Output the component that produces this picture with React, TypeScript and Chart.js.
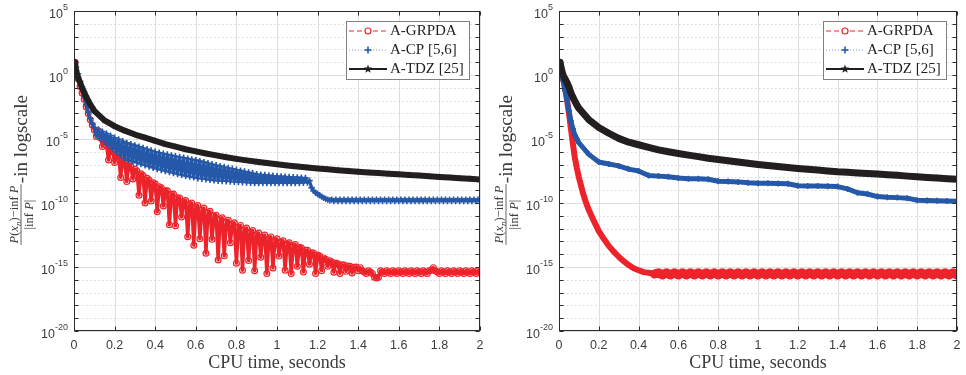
import React, { useEffect, useRef } from "react";
import { Chart, registerables } from "chart.js";

Chart.register(...registerables);

// ---------- axes / labels ----------
const xTickValues = [0, 0.2, 0.4, 0.6, 0.8, 1, 1.2, 1.4, 1.6, 1.8, 2];
const xTickLabels = ["0", "0.2", "0.4", "0.6", "0.8", "1", "1.2", "1.4", "1.6", "1.8", "2"];
const yMajorExp = [5, 0, -5, -10, -15, -20];
const yMajorExpLabels = ["5", "0", "-5", "-10", "-15", "-20"];
const yMinExp = -20;
const yMaxExp = 5;
const xTitle = "CPU time, seconds";
const yTitleTail = "-in logscale";
const legendLabels = ["A-GRPDA", "A-CP [5,6]", "A-TDZ [25]"];

// ---------- time grids (seconds) ----------
const tLeftDense = [
  0.005,
  0.01, 0.02, 0.03, 0.04, 0.05, 0.06, 0.07, 0.08, 0.09, 0.1,
  0.11, 0.12, 0.13, 0.14, 0.15, 0.16, 0.17, 0.18, 0.19, 0.2,
  0.21, 0.22, 0.23, 0.24, 0.25, 0.26, 0.27, 0.28, 0.29, 0.3,
  0.31, 0.32, 0.33, 0.34, 0.35, 0.36, 0.37, 0.38, 0.39, 0.4,
  0.41, 0.42, 0.43, 0.44, 0.45, 0.46, 0.47, 0.48, 0.49, 0.5,
  0.51, 0.52, 0.53, 0.54, 0.55, 0.56, 0.57, 0.58, 0.59, 0.6,
  0.61, 0.62, 0.63, 0.64, 0.65, 0.66, 0.67, 0.68, 0.69, 0.7,
  0.71, 0.72, 0.73, 0.74, 0.75, 0.76, 0.77, 0.78, 0.79, 0.8,
  0.81, 0.82, 0.83, 0.84, 0.85, 0.86, 0.87, 0.88, 0.89, 0.9,
  0.91, 0.92, 0.93, 0.94, 0.95, 0.96, 0.97, 0.98, 0.99, 1.0,
  1.01, 1.02, 1.03, 1.04, 1.05, 1.06, 1.07, 1.08, 1.09, 1.1,
  1.11, 1.12, 1.13, 1.14, 1.15, 1.16, 1.17, 1.18, 1.19, 1.2,
  1.21, 1.22, 1.23, 1.24, 1.25, 1.26, 1.27, 1.28, 1.29, 1.3,
  1.31, 1.32, 1.33, 1.34, 1.35, 1.36, 1.37, 1.38, 1.39, 1.4,
  1.41, 1.42, 1.43, 1.44, 1.45, 1.46, 1.47, 1.48, 1.49, 1.5,
  1.51, 1.52, 1.53, 1.54, 1.55, 1.56, 1.57, 1.58, 1.59, 1.6,
  1.61, 1.62, 1.63, 1.64, 1.65, 1.66, 1.67, 1.68, 1.69, 1.7,
  1.71, 1.72, 1.73, 1.74, 1.75, 1.76, 1.77, 1.78, 1.79, 1.8,
  1.81, 1.82, 1.83, 1.84, 1.85, 1.86, 1.87, 1.88, 1.89, 1.9,
  1.91, 1.92, 1.93, 1.94, 1.95, 1.96, 1.97, 1.98, 1.99, 2.0,
];

const tCoarse = [
  0.005, 0.01, 0.02, 0.03, 0.04, 0.05, 0.06, 0.07, 0.08, 0.09, 0.1,
  0.15, 0.2, 0.25, 0.3, 0.35, 0.4, 0.45, 0.5, 0.55, 0.6, 0.65, 0.7, 0.75, 0.8,
  0.85, 0.9, 0.95, 1.0, 1.05, 1.1, 1.15, 1.2, 1.25, 1.3, 1.35, 1.4, 1.45, 1.5,
  1.55, 1.6, 1.65, 1.7, 1.75, 1.8, 1.85, 1.9, 1.95, 2.0,
];

const tRightRed = [
  0.005,
  0.01, 0.02, 0.03, 0.04, 0.05, 0.06, 0.07, 0.08, 0.09, 0.1, 0.11, 0.12, 0.13, 0.14, 0.15,
  0.175, 0.2, 0.225, 0.25, 0.275, 0.3, 0.325, 0.35, 0.375, 0.4, 0.425, 0.45,
  0.48, 0.5, 0.52, 0.54, 0.56, 0.58, 0.6, 0.62, 0.64, 0.66, 0.68, 0.7, 0.72, 0.74, 0.76, 0.78,
  0.8, 0.82, 0.84, 0.86, 0.88, 0.9, 0.92, 0.94, 0.96, 0.98, 1.0, 1.02, 1.04, 1.06, 1.08,
  1.1, 1.12, 1.14, 1.16, 1.18, 1.2, 1.22, 1.24, 1.26, 1.28, 1.3, 1.32, 1.34, 1.36, 1.38,
  1.4, 1.42, 1.44, 1.46, 1.48, 1.5, 1.52, 1.54, 1.56, 1.58, 1.6, 1.62, 1.64, 1.66, 1.68,
  1.7, 1.72, 1.74, 1.76, 1.78, 1.8, 1.82, 1.84, 1.86, 1.88, 1.9, 1.92, 1.94, 1.96, 1.98, 2.0,
];

// ---------- series: log10 of relative objective error ----------
// Left panel
const grpdaLeftLog10 = [
  1.0,
  0.3, -0.3, -0.9, -1.4, -1.9, -2.5, -3.0, -3.5, -3.9,
  -4.3, -4.8, -4.35, -4.9, -5.58, -4.99, -5.5, -6.64, -5.62, -6.0, -6.84, -6.14,
  -6.4, -8.0, -6.56, -6.8, -8.33, -6.98, -7.15, -8.13, -7.35, -7.5, -9.39, -7.71,
  -7.85, -10.0, -8.07, -8.2, -9.85, -8.42, -8.5, -10.69, -8.73, -8.8, -10.24, -9.04,
  -9.05, -11.7, -9.32, -9.3, -11.77, -9.59, -9.6, -11.1, -9.9, -9.8, -12.64, -10.12,
  -10.0, -13.3, -10.33, -10.2, -12.79, -10.55, -10.4, -13.92, -10.77, -10.65, -12.84, -11.02,
  -10.95, -14.45, -11.3, -11.15, -14.13, -11.5, -11.35, -13.1, -11.7, -11.55, -14.7, -11.9,
  -11.75, -15.25, -12.1, -11.95, -14.5, -12.29, -12.15, -15.29, -12.48, -12.35, -14.24, -12.67,
  -12.5, -15.5, -12.8, -12.65, -15.07, -12.94, -12.8, -14.15, -13.07, -12.95, -15.25, -13.21,
  -13.1, -15.5, -13.34, -13.25, -14.94, -13.48, -13.5, -15.4, -13.7, -13.7, -14.78, -13.88,
  -13.9, -15.5, -14.06, -14.15, -15.3, -14.29, -14.4, -14.95, -14.51, -14.6, -15.41, -14.69,
  -14.75, -15.5, -14.83, -14.85, -15.34, -14.92, -14.95, -15.47, -15.01, -15.0, -15.3, -15.05,
  -15.3, -15.4, -15.5, -15.3, -15.4, -15.5, -15.8, -15.85, -15.8, -15.3,
  -15.4, -15.5, -15.3, -15.4, -15.5, -15.3, -15.4, -15.5, -15.3, -15.4,
  -15.5, -15.3, -15.4, -15.5, -15.3, -15.4, -15.5, -15.3, -15.4, -15.5,
  -15.3, -15.4, -15.5, -15.3, -15.25, -15.05, -15.3, -15.4, -15.5, -15.3,
  -15.4, -15.5, -15.3, -15.4, -15.5, -15.3, -15.4, -15.5, -15.3, -15.4,
  -15.5, -15.3, -15.4, -15.5, -15.3, -15.4, -15.5, -15.3, -15.4,
];

const cpLeftLog10 = [
  1.0,
  0.6, 0.1, -0.5, -1.1, -1.7, -2.3, -2.9, -3.4, -3.8,
  -4.1, -4.72, -4.26, -4.96, -4.42, -5.2, -4.58, -5.48, -4.74, -5.76,
  -4.9, -6.02, -5.03, -6.25, -5.17, -6.48, -5.3, -6.65, -5.4, -6.75,
  -5.5, -6.85, -5.6, -6.95, -5.7, -7.05, -5.8, -7.15, -5.9, -7.25,
  -6.0, -7.34, -6.07, -7.42, -6.14, -7.5, -6.21, -7.58, -6.28, -7.66,
  -6.35, -7.74, -6.41, -7.8, -6.47, -7.88, -6.53, -7.94, -6.59, -8.0,
  -6.65, -8.07, -6.73, -8.11, -6.81, -8.15, -6.89, -8.19, -6.97, -8.23,
  -7.05, -8.26, -7.12, -8.28, -7.19, -8.3, -7.26, -8.32, -7.33, -8.34,
  -7.4, -8.36, -7.47, -8.38, -7.54, -8.4, -7.61, -8.42, -7.68, -8.44,
  -7.75, -8.45, -7.78, -8.45, -7.81, -8.45, -7.84, -8.45, -7.87, -8.45,
  -7.9, -8.45, -7.92, -8.45, -7.94, -8.45, -7.96, -8.45, -7.98, -8.45,
  -8.0, -8.44, -8.02, -8.42, -8.04, -8.4,
  -8.25, -8.8, -9.05, -9.2, -9.3, -9.4, -9.5, -9.6, -9.68, -9.74, -9.78,
  -9.74, -9.84, -9.74, -9.84, -9.74, -9.84, -9.74, -9.84, -9.74, -9.84,
  -9.74, -9.84, -9.74, -9.84, -9.74, -9.84, -9.74, -9.84, -9.74, -9.84,
  -9.74, -9.84, -9.74, -9.84, -9.74, -9.84, -9.74, -9.84, -9.74, -9.84,
  -9.74, -9.84, -9.74, -9.84, -9.74, -9.84, -9.74, -9.84, -9.74, -9.84,
  -9.74, -9.84, -9.74, -9.84, -9.74, -9.84, -9.74, -9.84, -9.74, -9.84,
  -9.74, -9.84, -9.74, -9.84, -9.74, -9.84, -9.74, -9.84, -9.74, -9.84,
  -9.74, -9.84, -9.74, -9.84, -9.74, -9.84, -9.74, -9.84, -9.74, -9.84,
  -9.74, -9.84, -9.74, -9.84,
];

const tdzLeftLog10 = [
  1.0, 0.3, -0.2, -0.6, -1.0, -1.35, -1.7, -2.0, -2.3, -2.55, -2.8,
  -3.55, -4.0, -4.35, -4.65, -4.9, -5.15, -5.4, -5.6, -5.8, -5.97, -6.13, -6.28, -6.42, -6.55,
  -6.67, -6.78, -6.88, -6.98, -7.07, -7.15, -7.23, -7.3, -7.37, -7.44, -7.5, -7.56, -7.61, -7.66,
  -7.71, -7.76, -7.81, -7.86, -7.91, -7.96, -8.01, -8.06, -8.11, -8.16,
];

// Right panel
const grpdaRightLog10 = [
  1.0,
  0.5, -0.3, -1.0, -1.9, -3.0, -4.2, -5.4, -6.5, -7.3, -8.0, -8.6, -9.2, -9.7, -10.15, -10.55,
  -11.4, -12.2, -12.8, -13.35, -13.8, -14.2, -14.55, -14.85, -15.1, -15.25, -15.4, -15.45,
  -15.55, -15.45, -15.62, -15.45, -15.62, -15.45, -15.62, -15.45, -15.62, -15.45, -15.62, -15.45, -15.62,
  -15.45, -15.62, -15.45, -15.62, -15.45, -15.62, -15.45, -15.62, -15.45, -15.62, -15.45, -15.62,
  -15.45, -15.62, -15.45, -15.62, -15.45, -15.62, -15.45, -15.62, -15.45, -15.62, -15.45, -15.62,
  -15.45, -15.62, -15.45, -15.62, -15.45, -15.62, -15.45, -15.62, -15.45, -15.62, -15.45, -15.62,
  -15.45, -15.62, -15.45, -15.62, -15.45, -15.62, -15.45, -15.62, -15.45, -15.62, -15.45, -15.62,
  -15.45, -15.62, -15.45, -15.62, -15.45, -15.62, -15.45, -15.62, -15.45, -15.62, -15.45, -15.62,
  -15.45, -15.62, -15.45, -15.62,
];

const cpRightLog10 = [
  1.0, 0.4, -0.4, -1.2, -1.95, -2.8, -3.6, -4.2, -4.7, -5.0, -5.3,
  -6.2, -6.8, -6.95, -7.1, -7.35, -7.5, -7.85, -7.9, -7.95, -8.05, -8.1, -8.1, -8.15, -8.3,
  -8.32, -8.35, -8.42, -8.45, -8.45, -8.47, -8.5, -8.65, -8.67, -8.68, -8.7, -8.72, -8.9, -9.2,
  -9.3, -9.5, -9.55, -9.58, -9.62, -9.78, -9.8, -9.82, -9.84, -9.86,
];

const tdzRightLog10 = [
  1.0, 0.6, 0.0, -0.3, -0.6, -0.95, -1.4, -1.75, -2.05, -2.35, -2.6,
  -3.5, -4.1, -4.55, -4.95, -5.25, -5.45, -5.65, -5.85, -6.0, -6.13, -6.26, -6.38, -6.5, -6.6,
  -6.7, -6.8, -6.9, -6.99, -7.07, -7.15, -7.23, -7.3, -7.37, -7.43, -7.5, -7.56, -7.6, -7.65,
  -7.7, -7.74, -7.79, -7.84, -7.9, -7.95, -8.0, -8.05, -8.1, -8.14,
];

// ---------- styling ----------
const SERIF = "'Liberation Serif','DejaVu Serif','Times New Roman',serif";
const SANS = "'Liberation Sans','DejaVu Sans',Arial,sans-serif";
const RED = "#ec232a";
const BLUE = "#2558a8";
const BLACK = "#231f20";
const AXIS = "#2b2b2b";
const LABEL = "#3c3c3c";

function toPoints(t: number[], logs: number[]) {
  const n = Math.min(t.length, logs.length);
  const out: { x: number; y: number }[] = [];
  for (let i = 0; i < n; i++) out.push({ x: t[i], y: Math.pow(10, logs[i]) });
  return out;
}

function pentagramPath(ctx: CanvasRenderingContext2D, cx: number, cy: number, r: number) {
  ctx.beginPath();
  for (let k = 0; k < 10; k++) {
    const ang = -Math.PI / 2 + (k * Math.PI) / 5;
    const rr = k % 2 === 0 ? r : r * 0.42;
    const px = cx + rr * Math.cos(ang);
    const py = cy + rr * Math.sin(ang);
    if (k === 0) ctx.moveTo(px, py);
    else ctx.lineTo(px, py);
  }
  ctx.closePath();
}

function makeStarCanvas(color: string, r: number) {
  const c = document.createElement("canvas");
  const s = Math.ceil(r * 2 + 2);
  c.width = s;
  c.height = s;
  const g = c.getContext("2d")!;
  g.fillStyle = color;
  pentagramPath(g, s / 2, s / 2, r);
  g.fill();
  return c;
}

type Run = { t: string; f: string; dy?: number };
function runsWidth(ctx: CanvasRenderingContext2D, runs: Run[]) {
  let w = 0;
  for (const r of runs) {
    ctx.font = r.f;
    w += ctx.measureText(r.t).width;
  }
  return w;
}
function drawRuns(ctx: CanvasRenderingContext2D, runs: Run[], x: number, y: number) {
  let cx = x;
  for (const r of runs) {
    ctx.font = r.f;
    ctx.fillText(r.t, cx, y + (r.dy || 0));
    cx += ctx.measureText(r.t).width;
  }
}

function drawYTitle(ctx: CanvasRenderingContext2D, cx: number, cy: number) {
  const f12 = `12.5px ${SERIF}`;
  const i12 = `italic 12.5px ${SERIF}`;
  const i9 = `italic 9px ${SERIF}`;
  const num: Run[] = [
    { t: "P", f: i12 },
    { t: "(", f: f12 },
    { t: "x", f: i12 },
    { t: "n", f: i9, dy: 2.5 },
    { t: ")\u2212inf ", f: f12 },
    { t: "P", f: i12 },
  ];
  const den: Run[] = [
    { t: "|inf ", f: f12 },
    { t: "P", f: i12 },
    { t: "|", f: f12 },
  ];
  const tail: Run[] = [{ t: yTitleTail, f: `19px ${SERIF}` }];
  ctx.save();
  ctx.translate(cx, cy);
  ctx.rotate(-Math.PI / 2);
  ctx.fillStyle = LABEL;
  ctx.strokeStyle = LABEL;
  ctx.textAlign = "left";
  ctx.textBaseline = "alphabetic";
  const nw = runsWidth(ctx, num);
  const dw = runsWidth(ctx, den);
  const tw = runsWidth(ctx, tail);
  const fw = Math.max(nw, dw) + 3;
  const total = fw + 1 + tw;
  const x0 = -total / 2;
  drawRuns(ctx, num, x0 + (fw - nw) / 2, -3);
  drawRuns(ctx, den, x0 + (fw - dw) / 2, 11.5);
  ctx.lineWidth = 0.8;
  ctx.beginPath();
  ctx.moveTo(x0, 0);
  ctx.lineTo(x0 + fw, 0);
  ctx.stroke();
  drawRuns(ctx, tail, x0 + fw + 1, 6);
  ctx.restore();
}

function line(ctx: CanvasRenderingContext2D, x1: number, y1: number, x2: number, y2: number) {
  ctx.beginPath();
  ctx.moveTo(x1, y1);
  ctx.lineTo(x2, y2);
  ctx.stroke();
}

const framePlugin: any = {
  id: "matlabFrame",
  beforeDatasetsDraw(chart: any) {
    const { ctx, chartArea: a } = chart;
    const xs = chart.scales.x;
    const ys = chart.scales.y;
    ctx.save();
    ctx.lineWidth = 1;
    ctx.strokeStyle = "rgba(0,0,0,0.16)";
    ctx.setLineDash([1.5, 2.5]);
    for (let e = yMinExp; e <= yMaxExp; e++) {
      if (yMajorExp.includes(e)) continue;
      const py = Math.round(ys.getPixelForValue(Math.pow(10, e))) + 0.5;
      line(ctx, a.left, py, a.right, py);
    }
    ctx.setLineDash([]);
    ctx.strokeStyle = "#dedede";
    for (const e of yMajorExp) {
      const py = Math.round(ys.getPixelForValue(Math.pow(10, e))) + 0.5;
      line(ctx, a.left, py, a.right, py);
    }
    for (const v of xTickValues) {
      const px = Math.round(xs.getPixelForValue(v)) + 0.5;
      line(ctx, px, a.top, px, a.bottom);
    }
    ctx.restore();
  },
  afterDatasetsDraw(chart: any) {
    const { ctx, chartArea: a } = chart;
    const xs = chart.scales.x;
    const ys = chart.scales.y;
    const L = Math.round(a.left) + 0.5;
    const R = Math.round(a.right) - 0.5;
    const T = Math.round(a.top) + 0.5;
    const B = Math.round(a.bottom) - 0.5;
    ctx.save();
    ctx.strokeStyle = AXIS;
    ctx.lineWidth = 1;
    ctx.setLineDash([]);
    ctx.strokeRect(L, T, R - L, B - T);
    for (let e = yMinExp; e <= yMaxExp; e++) {
      const py = Math.round(ys.getPixelForValue(Math.pow(10, e))) + 0.5;
      line(ctx, L, py, L + 4, py);
      line(ctx, R, py, R - 4, py);
    }
    for (const v of xTickValues) {
      const px = Math.round(xs.getPixelForValue(v)) + 0.5;
      line(ctx, px, B, px, B - 4);
      line(ctx, px, T, px, T + 4);
    }
    ctx.fillStyle = LABEL;
    ctx.font = `12.5px ${SANS}`;
    ctx.textAlign = "center";
    ctx.textBaseline = "alphabetic";
    xTickValues.forEach((v, i) => {
      ctx.fillText(xTickLabels[i], xs.getPixelForValue(v), a.bottom + 18);
    });
    ctx.textAlign = "right";
    yMajorExp.forEach((e, i) => {
      const py = ys.getPixelForValue(Math.pow(10, e));
      ctx.font = `9px ${SANS}`;
      const ew = ctx.measureText(yMajorExpLabels[i]).width;
      ctx.fillText(yMajorExpLabels[i], a.left - 6, py - 1);
      ctx.font = `12.5px ${SANS}`;
      ctx.fillText("10", a.left - 6 - ew, py + 6.5);
    });
    ctx.textAlign = "center";
    ctx.font = `18px ${SERIF}`;
    ctx.fillText(xTitle, (a.left + a.right) / 2, 368);
    drawYTitle(ctx, a.left - 53, (a.top + a.bottom) / 2 - 1);
    // legend
    const bw = 123;
    const bh = 58;
    const bx = Math.round(a.right) - 11 - bw;
    const by = Math.round(a.top) + 10;
    ctx.fillStyle = "#ffffff";
    ctx.fillRect(bx, by, bw, bh);
    ctx.strokeStyle = "#808080";
    ctx.strokeRect(bx + 0.5, by + 0.5, bw, bh);
    const styles = [
      { color: RED, dash: [5, 3], width: 1, marker: "circle" },
      { color: BLUE, dash: [1, 2], width: 1, marker: "cross" },
      { color: BLACK, dash: [], width: 2, marker: "star" },
    ];
    legendLabels.forEach((lab, i) => {
      const st = styles[i];
      const cy = by + 10 + 19 * i;
      ctx.save();
      ctx.strokeStyle = st.marker === "cross" ? "#7f9fd0" : st.color;
      ctx.lineWidth = st.width;
      ctx.setLineDash(st.dash);
      line(ctx, bx + 3, cy, bx + 41, cy);
      ctx.setLineDash([]);
      ctx.strokeStyle = st.color;
      const mx = bx + 22;
      if (st.marker === "circle") {
        ctx.fillStyle = "#ffffff";
        ctx.lineWidth = 1.2;
        ctx.beginPath();
        ctx.arc(mx, cy, 3, 0, Math.PI * 2);
        ctx.fill();
        ctx.stroke();
      } else if (st.marker === "cross") {
        ctx.lineWidth = 1.6;
        line(ctx, mx - 3.5, cy, mx + 3.5, cy);
        line(ctx, mx, cy - 3.5, mx, cy + 3.5);
      } else {
        ctx.fillStyle = st.color;
        pentagramPath(ctx, mx, cy, 4.5);
        ctx.fill();
      }
      ctx.restore();
      ctx.fillStyle = "#1e1e1e";
      ctx.font = `15px ${SERIF}`;
      ctx.textAlign = "left";
      ctx.textBaseline = "middle";
      ctx.fillText(lab, bx + 44, cy + 0.5);
    });
    ctx.restore();
  },
};

function buildDatasets(panel: "left" | "right") {
  const star = makeStarCanvas(BLACK, 3.5);
  if (panel === "left") {
    return [
      {
        label: legendLabels[0],
        data: toPoints(tLeftDense, grpdaLeftLog10),
        borderColor: RED,
        borderWidth: 3.4,
        borderJoinStyle: "round",
        pointStyle: "circle",
        pointRadius: 2.9,
        pointBorderWidth: 1.2,
        pointBorderColor: RED,
        pointBackgroundColor: "rgba(0,0,0,0)",
        order: 3,
      },
      {
        label: legendLabels[1],
        data: toPoints(tLeftDense, cpLeftLog10),
        borderColor: BLUE,
        borderWidth: 3.2,
        borderJoinStyle: "round",
        pointStyle: "cross",
        pointRadius: 3.2,
        pointBorderWidth: 1.6,
        pointBorderColor: BLUE,
        pointBackgroundColor: BLUE,
        order: 2,
      },
      {
        label: legendLabels[2],
        data: toPoints(tCoarse, tdzLeftLog10),
        borderColor: BLACK,
        borderWidth: 6,
        borderJoinStyle: "round",
        borderCapStyle: "round",
        pointStyle: star,
        pointRadius: 3.5,
        order: 1,
      },
    ];
  }
  return [
    {
      label: legendLabels[0],
      data: toPoints(tRightRed, grpdaRightLog10),
      borderColor: RED,
      borderWidth: 6,
      borderJoinStyle: "round",
      borderCapStyle: "round",
      segment: {
        borderWidth: (c: any) => (c.p0.parsed.x >= 0.46 ? 9 : 6),
      },
      pointStyle: "circle",
      pointRadius: (c: any) => (c.dataIndex < 2 ? 2.6 : 0),
      pointBorderWidth: 1.1,
      pointBorderColor: RED,
      pointBackgroundColor: "rgba(0,0,0,0)",
      order: 3,
    },
    {
      label: legendLabels[1],
      data: toPoints(tCoarse, cpRightLog10),
      borderColor: BLUE,
      borderWidth: 5,
      borderJoinStyle: "round",
      borderCapStyle: "round",
      pointStyle: "cross",
      pointRadius: 3,
      pointBorderWidth: 1.6,
      pointBorderColor: BLUE,
      pointBackgroundColor: BLUE,
      order: 2,
    },
    {
      label: legendLabels[2],
      data: toPoints(tCoarse, tdzRightLog10),
      borderColor: BLACK,
      borderWidth: 7,
      borderJoinStyle: "round",
      borderCapStyle: "round",
      pointStyle: star,
      pointRadius: 3.5,
      order: 1,
    },
  ];
}

function Panel(props: { panel: "left" | "right"; left: number; width: number; padLeft: number; padRight: number }) {
  const ref = useRef<HTMLCanvasElement | null>(null);
  useEffect(() => {
    if (!ref.current) return;
    const chart = new Chart(ref.current, {
      type: "line",
      data: { datasets: buildDatasets(props.panel) as any },
      options: {
        animation: false,
        responsive: false,
        devicePixelRatio: 1,
        events: [],
        layout: { padding: { left: props.padLeft, right: props.padRight, top: 11, bottom: 44 } },
        scales: {
          x: { type: "linear", min: 0, max: 2, display: false },
          y: { type: "logarithmic", min: 1e-20, max: 1e5, display: false },
        },
        plugins: { legend: { display: false }, tooltip: { enabled: false } },
      } as any,
      plugins: [framePlugin],
    });
    return () => chart.destroy();
  }, []);
  return (
    <canvas
      ref={ref}
      width={props.width}
      height={375}
      style={{ position: "absolute", left: props.left, top: 0, width: props.width, height: 375 }}
    />
  );
}

export default function App() {
  return (
    <div
      style={{
        position: "fixed",
        left: 0,
        top: 0,
        width: 966,
        height: 375,
        overflow: "hidden",
        background: "#ffffff",
      }}
    >
      <Panel panel="left" left={0} width={490} padLeft={74} padRight={8} />
      <Panel panel="right" left={490} width={478} padLeft={69} padRight={1} />
    </div>
  );
}
